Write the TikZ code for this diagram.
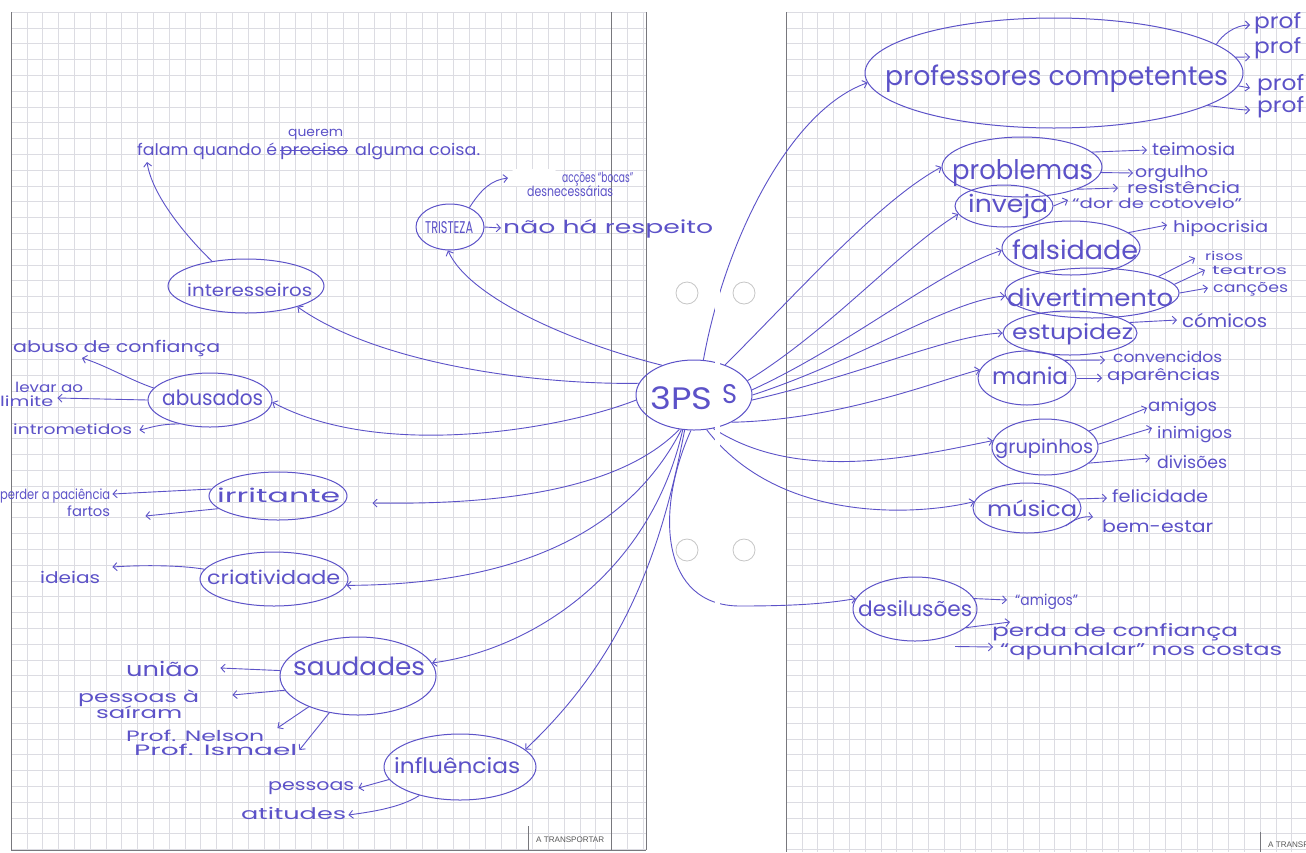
\documentclass[tikz,border=0pt]{standalone}
\usepackage{fontspec}
\usepackage{graphicx}
\usetikzlibrary{shapes.geometric,arrows.meta,calc}
\newfontfamily\hand{Poppins}
\newfontfamily\stampfont{Liberation Sans}
\definecolor{ink}{RGB}{92,82,200}
\definecolor{gridc}{RGB}{220,220,226}
\definecolor{rulec}{RGB}{120,120,125}
% text of font size #2, squeezed or stretched to width #1
\newcommand{\hw}[3]{\resizebox{#1pt}{\height}{\fontsize{#2pt}{#2pt}\selectfont\hand #3}}
\tikzset{
  bub/.style={draw=ink, ellipse, line width=1pt, inner sep=0pt},
  txt/.style={anchor=base west, inner sep=0pt, text=ink},
  arr/.style={draw=ink, line width=0.9pt, -{Straight Barb[length=4pt,width=8pt]}},
  gline/.style={draw=gridc, line width=0.35pt},
  rule/.style={draw=rulec, line width=0.8pt},
  hole/.style={draw=gray!45, fill=white, line width=0.8pt}
}
\begin{document}
\begin{tikzpicture}[x=1pt,y=-1pt]
\useasboundingbox (0,0) rectangle (1306,852);
\clip (0,0) rectangle (1306,852);
\fill[white] (0,0) rectangle (1306,852);
% ---------- paper grid ----------
\foreach \i in {0,...,40} \draw[gline] ({11+\i*15.8},12) -- ({11+\i*15.8},850);
\foreach \j in {0,...,53} \draw[gline] (11,{12+\j*15.8}) -- (646,{12+\j*15.8});
\foreach \i in {0,...,33} \draw[gline] ({786+\i*15.8},12) -- ({786+\i*15.8},852);
\foreach \j in {0,...,53} \draw[gline] (786,{12+\j*15.8}) -- (1306,{12+\j*15.8});
\fill[white] (646.5,12) rectangle (715,849.5);
\fill[white] (720,12) rectangle (785.5,852);
\draw[rule] (11,12) -- (11,850);
\draw[rule] (611,12) -- (611,850);
\draw[rule] (646,12) -- (646,850);
\draw[rule] (11,850) -- (646,850);
\draw[rule] (786,12) -- (786,852);
% holes
\draw[hole] (687,293) circle (11);
\draw[hole] (744,293) circle (11);
\draw[hole] (687,550) circle (11);
\draw[hole] (744,550) circle (11);
% A TRANSPORTAR boxes
\draw[rule] (528,826) -- (528,850);
\node[anchor=base west, inner sep=0pt, text=gray!70!black] (tr1) at (536,842) {\resizebox{68pt}{!}{\stampfont A TRANSPORTAR}};
\draw[rule] (1260,832) -- (1260,852);
\node[anchor=base west, inner sep=0pt, text=gray!70!black] (tr2) at (1268,847) {\resizebox{68pt}{!}{\stampfont A TRANSPORTAR}};
% white-out blob
\fill[white, rounded corners=5pt] (511,169) rectangle (557,186);

% ---------- ellipses ----------
\node[bub, minimum width=116pt, minimum height=70pt] (c) at (694,395) {};
\node[bub, minimum width=68pt, minimum height=46pt] (tris) at (450,227) {};
\node[bub, minimum width=156pt, minimum height=54pt] (int) at (246,286) {};
\node[bub, minimum width=124pt, minimum height=54pt] (abu) at (210,400) {};
\node[bub, minimum width=138pt, minimum height=48pt] (irr) at (278,496) {};
\node[bub, minimum width=148pt, minimum height=54pt] (cri) at (274,579) {};
\node[bub, minimum width=156pt, minimum height=78pt] (sau) at (358,676) {};
\node[bub, minimum width=152pt, minimum height=66pt] (inf) at (460,767) {};
\node[bub, minimum width=378pt, minimum height=110pt] (pc) at (1054,73) {};
\node[bub, minimum width=160pt, minimum height=60pt] (prb) at (1022,167) {};
\node[bub, minimum width=98pt, minimum height=42pt] (inv) at (1004,206) {};
\node[bub, minimum width=138pt, minimum height=54pt] (fal) at (1071,248) {};
\node[bub, minimum width=174pt, minimum height=50pt] (div) at (1092,293) {};
\node[bub, minimum width=134pt, minimum height=44pt] (est) at (1070,333) {};
\node[bub, minimum width=98pt, minimum height=54pt] (man) at (1027,378) {};
\node[bub, minimum width=106pt, minimum height=56pt] (grp) at (1045,447) {};
\node[bub, minimum width=108pt, minimum height=50pt] (mus) at (1027,508) {};
\node[bub, minimum width=124pt, minimum height=64pt] (des) at (915,609) {};

% ---------- texts: left page ----------
\node[txt] (t3ps) at (650,409) {\hw{62}{31}{3PS}};
\node[txt] (t3s) at (722,403) {\hw{15}{27}{S}};
\node[txt] (falam) at (137,155) {\hw{140}{16}{falam quando é}};
\node[txt] (prec) at (280,155) {\hw{68}{16}{preciso}};
\node[txt] (alg) at (355,155) {\hw{125}{16}{alguma coisa.}};
\node[txt] (quer) at (288,136) {\hw{55}{13}{querem}};
\node[txt] (tint) at (187,296) {\hw{125}{17}{interesseiros}};
\node[txt] (ttris) at (425,233) {\hw{48}{17}{TRISTEZA}};
\node[txt] (acc) at (562,182) {\hw{71}{14}{acções “bocas”}};
\node[txt] (desn) at (527,196) {\hw{86}{14}{desnecessárias}};
\node[txt] (nao) at (503,233) {\hw{210}{18}{não há respeito}};
\node[txt] (abc) at (13,352) {\hw{207}{16}{abuso de confiança}};
\node[txt] (lev) at (15,392) {\hw{68}{14}{levar ao}};
\node[txt] (lim) at (0,406) {\hw{53}{14}{limite}};
\node[txt] (itr) at (13,434) {\hw{119}{14}{intrometidos}};
\node[txt] (tabu) at (162,405) {\hw{101}{21}{abusados}};
\node[txt] (tirr) at (217,502) {\hw{123}{19}{irritante}};
\node[txt] (perd) at (0,499) {\hw{110}{14}{perder a paciência}};
\node[txt] (fart) at (67,516) {\hw{43}{14}{fartos}};
\node[txt] (tcri) at (207,584) {\hw{133}{19}{criatividade}};
\node[txt] (ide) at (40,583) {\hw{60}{16}{ideias}};
\node[txt] (tsau) at (293,675) {\hw{132}{25}{saudades}};
\node[txt] (uni) at (126,676) {\hw{73}{20}{união}};
\node[txt] (pes1) at (78,702) {\hw{121}{16}{pessoas à}};
\node[txt] (sai) at (96,718) {\hw{86}{16}{saíram}};
\node[txt] (nel) at (126,741) {\hw{138}{15}{Prof. Nelson}};
\node[txt] (ism) at (134,755) {\hw{163}{15}{Prof. Ismael}};
\node[txt] (tinf) at (394,773) {\hw{126}{21}{influências}};
\node[txt] (pes2) at (268,790) {\hw{86}{16}{pessoas}};
\node[txt] (atit) at (241,819) {\hw{105}{16}{atitudes}};

% ---------- texts: right page ----------
\node[txt] (tpc) at (885,85) {\hw{343}{27}{professores competentes}};
\node[txt] (pr1) at (1254,28) {\hw{47}{21}{prof}};
\node[txt] (pr2) at (1254,53) {\hw{47}{21}{prof}};
\node[txt] (pr3) at (1257,90) {\hw{47}{21}{prof}};
\node[txt] (pr4) at (1257,112) {\hw{47}{21}{prof}};
\node[txt] (tprb) at (952,179) {\hw{141}{27}{problemas}};
\node[txt] (tei) at (1152,155) {\hw{83}{17}{teimosia}};
\node[txt] (org) at (1135,177) {\hw{73}{16}{orgulho}};
\node[txt] (res) at (1127,193) {\hw{113}{16}{resistência}};
\node[txt] (tinv) at (968,212) {\hw{80}{24}{inveja}};
\node[txt] (dor) at (1072,208) {\hw{170}{14}{“dor de cotovelo”}};
\node[txt] (tfal) at (1012,259) {\hw{126}{26}{falsidade}};
\node[txt] (hip) at (1173,232) {\hw{95}{16}{hipocrisia}};
\node[txt] (tdiv) at (1007,306) {\hw{166}{24}{divertimento}};
\node[txt] (ris) at (1205,260) {\hw{38}{12}{risos}};
\node[txt] (tea) at (1212,274) {\hw{75}{12}{teatros}};
\node[txt] (can) at (1213,292) {\hw{75}{14}{canções}};
\node[txt] (test) at (1012,339) {\hw{121}{21}{estupidez}};
\node[txt] (com) at (1182,327) {\hw{85}{18}{cómicos}};
\node[txt] (tman) at (992,384) {\hw{76}{23}{mania}};
\node[txt] (conv) at (1113,362) {\hw{109}{15}{convencidos}};
\node[txt] (apar) at (1107,380) {\hw{113}{16}{aparências}};
\node[txt] (tgrp) at (995,453) {\hw{98}{19}{grupinhos}};
\node[txt] (ami) at (1148,411) {\hw{69}{17}{amigos}};
\node[txt] (inim) at (1157,438) {\hw{75}{16}{inimigos}};
\node[txt] (divi) at (1157,468) {\hw{70}{17}{divisões}};
\node[txt] (tmus) at (987,516) {\hw{90}{21}{música}};
\node[txt] (feli) at (1112,502) {\hw{96}{17}{felicidade}};
\node[txt] (bem) at (1102,532) {\hw{111}{17}{bem-estar}};
\node[txt] (tdes) at (858,616) {\hw{114}{21}{desilusões}};
\node[txt] (ami2) at (1015,605) {\hw{63}{15}{“amigos”}};
\node[txt] (perd2) at (992,636) {\hw{246}{17}{perda de confiança}};
\node[txt] (apu) at (1000,655) {\hw{282}{17}{“apunhalar” nos costas}};

% strike-through
\draw[draw=ink, line width=1pt] ($(prec.base west)+(0,-5)$) -- ($(prec.base east)+(0,-5)$);

% ---------- main connectors (left) ----------
\draw[arr] (c.137) .. controls (580,345) and (470,300) .. (tris.265);
\draw[arr] (c.168) .. controls (540,385) and (380,365) .. (int.338);
\draw[arr] (c.185) .. controls (560,430) and (380,460) .. (abu.358);
\draw[arr] (c.247) .. controls (620,490) and (500,505) .. ($(irr.east)+(25,7)$);
\draw[arr] (c.250) .. controls (630,530) and (520,585) .. (cri.355);
\draw[arr] (c.252) .. controls (650,575) and (530,650) .. (sau.10);
\draw[arr] (c.255) .. controls (660,560) and (620,660) .. (inf.15);
% ---------- main connectors (right) ----------
\draw[arr] (c.75) .. controls (725,240) and (790,110) .. (pc.183);
\draw[arr] (c.44) .. controls (800,290) and (880,200) .. (prb.180);
\draw[arr] (c.15) .. controls (830,330) and (900,250) .. (inv.190);
\draw[arr] (c.5) .. controls (850,345) and (940,270) .. (fal.182);
\draw[arr] (c.0) .. controls (860,360) and (950,300) .. (div.182);
\draw[arr] (c.-5) .. controls (860,375) and (950,335) .. (est.180);
\draw[arr] (c.324) .. controls (840,420) and (940,380) .. (man.170);
\draw[arr] (c.300) .. controls (800,485) and (920,455) .. (grp.173);
\draw[arr] (c.290) .. controls (780,525) and (920,515) .. (mus.173);
\draw[arr] (c.265) .. controls (655,510) and (660,606) .. (740,606) .. controls (800,606) and (830,603) .. (des.170);

% ---------- child arrows (left) ----------
\draw[arr] (int.144) .. controls (185,235) and (152,195) .. ($(falam.base west)+(10,7)$);
\draw[arr] (tris.45) .. controls (482,188) and (492,180) .. ($(desn.base west)+(-19,-18)$);
\draw[arr] (tris.east) -- ($(nao.base west)+(-2,-5)$);
\draw[arr] (abu.168) .. controls (130,380) and (105,365) .. ($(abc.base west)+(69,6)$);
\draw[arr] (abu.180) -- ($(lim.base east)+(4,-8)$);
\draw[arr] (abu.218) .. controls (158,424) and (150,428) .. ($(itr.base east)+(7,-4)$);
\draw[arr] (irr.174) -- ($(perd.base east)+(2,-5)$);
\draw[arr] (irr.192) -- ($(fart.base east)+(35,0)$);
\draw[arr] (cri.172) .. controls (180,565) and (140,565) .. ($(ide.base east)+(12,-16)$);
\draw[arr] (sau.176) -- ($(uni.base east)+(21,-8)$);
\draw[arr] (sau.191) -- ($(pes1.base east)+(33,-7)$);
\draw[arr] (sau.212) -- ($(nel.base east)+(13,-13)$);
\draw[arr] (sau.232) -- ($(ism.base east)+(2,-5)$);
\draw[arr] (inf.190) -- ($(pes2.base east)+(4,-2)$);
\draw[arr] (inf.215) .. controls (400,808) and (370,812) .. ($(atit.base east)+(2,-4)$);

% ---------- child arrows (right) ----------
\draw[arr] (pc.10) .. controls (1222,35) and (1235,25) .. ($(pr1.base west)+(-4,-3)$);
\draw[arr] (pc.5) -- ($(pr2.base west)+(-4,4)$);
\draw[arr] (pc.-4) -- ($(pr3.base west)+(-7,-2)$);
\draw[arr] (pc.-12) .. controls (1230,108) and (1240,110) .. ($(pr4.base west)+(-7,-2)$);
\draw[arr] (prb.12) -- ($(tei.base west)+(-5,-5)$);
\draw[arr] (prb.-4) -- ($(org.base west)+(-2,-4)$);
\draw[arr] (prb.338) -- ($(res.base west)+(-9,-5)$);
\draw[arr] (inv.east) -- ($(dor.base west)+(-4,-8)$);
\draw[arr] (fal.15) -- ($(hip.base west)+(-6,-7)$);
\draw[arr] (div.14) -- ($(ris.base west)+(-10,-2)$);
\draw[arr] (div.6) -- ($(tea.base west)+(-7,-4)$);
\draw[arr] (div.0) -- ($(can.base west)+(-5,-4)$);
\draw[arr] (est.10) -- ($(com.base west)+(-5,-7)$);
\draw[arr] (man.25) -- ($(conv.base west)+(-8,-2)$);
\draw[arr] (man.0) -- ($(apar.base west)+(-5,-2)$);
\draw[arr] (grp.20) -- ($(ami.base west)+(-1,-3)$);
\draw[arr] (grp.3) -- ($(inim.base west)+(-5,-10)$);
\draw[arr] (grp.340) -- ($(divi.base west)+(-7,-10)$);
\draw[arr] (mus.10) -- ($(feli.base west)+(-5,-4)$);
\draw[arr] (mus.335) .. controls (1075,518) and (1085,516) .. ($(bem.base west)+(-9,-15)$);
\draw[arr] (des.10) -- ($(ami2.base west)+(-8,-5)$);
\draw[arr] (des.340) -- ($(perd2.base west)+(18,-14)$);
\draw[arr] ($(des.south)+(40,5)$) -- ($(apu.base west)+(-7,-8)$);

% ---------- gap between the two pages ----------
\fill[white] (715,0) rectangle (720,852);
\fill[white] (0,0) rectangle (1306,11.5);
\end{tikzpicture}
\end{document}
